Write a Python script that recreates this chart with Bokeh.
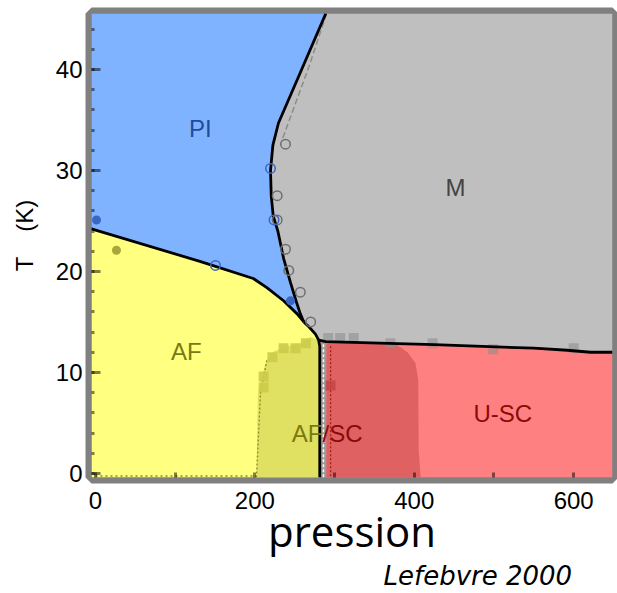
from bokeh.plotting import figure
from bokeh.models import Range1d, FixedTicker, Title
from bokeh.core.properties import value
from bokeh.embed import file_html
from bokeh.resources import INLINE

X0, X1 = -5.0, 648.7
T0, T1 = -0.40, 45.54

# phase boundaries (pression, T)
pi_m_p = [289.0, 256.5, 229.6, 222.6, 219.6, 220.5, 223.0, 228.8, 236.0, 244.7, 252.0, 257.0, 261.4]
pi_m_t = [45.54, 39.6, 34.7, 32.5, 30.0, 27.5, 25.5, 24.0, 21.3, 18.9, 17.0, 15.8, 15.0]
pi_af_p = [-5.0, -4.0, 131.0, 198.0, 215.0, 236.0, 253.0, 261.4]
pi_af_t = [24.3, 24.2, 21.0, 19.3, 18.4, 17.1, 15.8, 15.0]
af_m_p = [261.4, 268.0, 276.0, 280.0, 281.4, 281.4]
af_m_t = [15.0, 14.5, 13.8, 13.2, 12.6, -0.40]
m_usc_p = [280.0, 289.0, 425.0, 550.0, 592.0, 621.0, 648.7]
m_usc_t = [13.2, 13.05, 12.75, 12.4, 12.2, 12.0, 12.0]
afsc_p = [202.0, 203.8, 207.5, 214.6, 222.0, 235.9, 257.2, 270.0, 280.0, 281.4, 281.4]
afsc_t = [-0.40, 7.9, 9.2, 11.2, 12.0, 12.5, 12.9, 13.5, 13.2, 12.6, -0.40]
dred_p = [289.5, 289.5, 370.0, 379.0, 391.5, 401.5, 405.0, 405.5, 408.0]
dred_t = [-0.40, 13.0, 12.85, 12.7, 12.0, 10.9, 9.2, 2.3, -0.40]
dash_p = [290.0, 267.5, 234.0]
dash_t = [45.54, 40.2, 33.0]
afsc_dot_p = [202.0, 207.0, 215.0]
afsc_dot_t = [-0.40, 7.9, 11.2]

# measurements
sq_af_p = [211, 211, 222, 236, 251, 264]
sq_af_t = [8.5, 9.6, 11.5, 12.4, 12.4, 12.9]
sq_m_p = [292, 307, 324, 370, 423, 499, 600]
sq_m_t = [13.4, 13.4, 13.4, 12.9, 12.9, 12.3, 12.4]
sq_sc_p = [295]
sq_sc_t = [8.7]
oc_gray_p = [238.4, 228, 228, 238.4, 242.5, 257, 270]
oc_gray_t = [32.6, 27.5, 25.1, 22.2, 20.1, 17.95, 15.0]
oc_blue_p = [219.6, 224, 150.6]
oc_blue_t = [30.2, 25.1, 20.6]
fc_blue_p = [1.3, 244.7]
fc_blue_t = [25.1, 17.1]
fc_olive_p = [26.3]
fc_olive_t = [22.1]

x_ticks = [0, 200, 400, 600]
x_minor = [100, 300, 500]
y_ticks = [0, 10, 20, 30, 40]
y_minor = list(range(0, 46, 2))

p = figure(width=617, height=593, output_backend="svg", toolbar_location=None,
           x_range=Range1d(X0, X1), y_range=Range1d(T0, T1),
           min_border_left=91, min_border_right=5, min_border_top=13, min_border_bottom=116)
p.background_fill_color = "white"
p.grid.visible = False
p.outline_line_color = "#808080"
p.outline_line_width = 12

# regions
pi_xs = [X0] + pi_m_p + pi_af_p[::-1]
pi_ys = [T1] + pi_m_t + pi_af_t[::-1]
m_xs = pi_m_p + af_m_p[1:4] + m_usc_p[1:] + [X1]
m_ys = pi_m_t + af_m_t[1:4] + m_usc_t[1:] + [T1]
af_xs = pi_af_p + af_m_p[1:] + [X0]
af_ys = pi_af_t + af_m_t[1:] + [T0]
usc_xs = m_usc_p + [X1, 281.4, 281.4]
usc_ys = m_usc_t + [T0, T0, 12.6]

p.patch(pi_xs, pi_ys, fill_color="#80b3ff", line_color=None)
p.patch(m_xs, m_ys, fill_color="#bfbfbf", line_color=None)
p.patch(af_xs, af_ys, fill_color="#ffff80", line_color=None)
p.patch(usc_xs, usc_ys, fill_color="#ff8080", line_color=None)
p.patch(afsc_p, afsc_t, fill_color="#e0e062", line_color=None)
p.patch(dred_p, dred_t, fill_color="#e06161", line_color=None)
p.quad(left=[283.0], right=[289.5], bottom=[T0], top=[13.2], fill_color="#9a9a9a", line_color=None)

# dotted / dashed lines
p.line(afsc_dot_p, afsc_dot_t, line_color="#8a8a30", line_width=1.3, line_dash="2 2")
p.line([0, 202], [T0 + 0.15, T0 + 0.15], line_color="#8a8a30", line_width=1.3, line_dash="2 3")
p.line([295, 295], [12.6, T0], line_color="#a02020", line_width=1.3, line_dash="2 2")
p.line([286, 286], [12.8, T0], line_color="white", line_width=1.5, line_dash="3 2")
p.line(dash_p, dash_t, line_color="#8c8c8c", line_width=1.5, line_dash="6 3")

# squares
p.scatter(sq_af_p, sq_af_t, marker="square", size=10, fill_color="#cccc4a", line_color=None, fill_alpha=0.9)
p.scatter(sq_m_p, sq_m_t, marker="square", size=10, fill_color="#8f8f8f", line_color=None, fill_alpha=0.6)
p.scatter(sq_sc_p, sq_sc_t, marker="square", size=10, fill_color="#c04444", line_color=None, fill_alpha=0.8)

# boundaries
bl = dict(line_color="black", line_width=2.8)
p.line(pi_m_p, pi_m_t, **bl)
p.line(pi_af_p, pi_af_t, **bl)
p.line(af_m_p, af_m_t, **bl)
p.line(m_usc_p, m_usc_t, **bl)

# circles
p.scatter(oc_gray_p, oc_gray_t, marker="circle", size=9.5, fill_color=None, line_color="#6e6e6e", line_width=1.5)
p.scatter(oc_blue_p, oc_blue_t, marker="circle", size=9.5, fill_color=None, line_color="#3a66c4", line_width=1.5)
p.scatter(fc_blue_p, fc_blue_t, marker="circle", size=9, fill_color="#3a66c4", line_color=None)
p.scatter(fc_olive_p, fc_olive_t, marker="circle", size=9, fill_color="#a8a838", line_color=None)

# region labels
lab = dict(text_font=value("Liberation Sans"), text_font_size="24px", text_baseline="middle")
p.text([131.7], [34.2], text=["PI"], text_color="#1f4c9c", text_align="center", **lab)
p.text([451.7], [28.3], text=["M"], text_color="#444444", text_align="center", **lab)
p.text([114.0], [12.1], text=["AF"], text_color="#7a7a10", text_align="center", **lab)
p.text([511.0], [5.94], text=["U-SC"], text_color="#8b0a0a", text_align="center", **lab)
p.text([284.8], [3.96], text=["AF"], text_color="#7a7a10", text_align="right", **lab)
p.text([284.8], [3.96], text=["/SC"], text_color="#8b0a0a", text_align="left", **lab)

# axes
for ax in (p.xaxis[0], p.yaxis[0]):
    ax.axis_line_color = None
    ax.major_tick_out = 0
    ax.minor_tick_out = 0
    ax.major_tick_line_color = "black"
    ax.major_tick_line_alpha = 0.5
    ax.minor_tick_line_color = "black"
    ax.minor_tick_line_alpha = 0.5
    ax.major_tick_line_width = 3
    ax.minor_tick_line_width = 3
    ax.major_label_text_font = "Liberation Sans"
    ax.major_label_text_font_size = "24px"
    ax.major_label_text_color = "black"

p.xaxis.ticker = FixedTicker(ticks=x_ticks, minor_ticks=x_minor)
p.yaxis.ticker = FixedTicker(ticks=y_ticks, minor_ticks=y_minor)
p.yaxis.major_tick_in = 9
p.yaxis.minor_tick_in = 3
p.xaxis.major_tick_in = 5
p.xaxis.minor_tick_in = 5
p.yaxis.major_label_standoff = 9
p.xaxis.major_label_standoff = 14

p.xaxis.axis_label = "pression"
p.xaxis.axis_label_text_font = "Open Sans"
p.xaxis.axis_label_text_font_size = "42px"
p.xaxis.axis_label_text_font_style = "normal"
p.xaxis.axis_label_text_color = "black"
p.xaxis.axis_label_standoff = -10

p.yaxis.axis_label = "\u00a0\u00a0\u00a0T\u00a0\u00a0\u00a0\u2009(K)"
p.yaxis.axis_label_text_font = "Liberation Sans"
p.yaxis.axis_label_text_font_size = "24px"
p.yaxis.axis_label_text_font_style = "normal"
p.yaxis.axis_label_text_color = "black"
p.yaxis.axis_label_standoff = 15

t = Title(text="Lefebvre 2000", align="left", offset=292, text_font="DejaVu Sans",
          text_font_size="26px", text_font_style="italic", text_color="black", standoff=-5)
p.add_layout(t, "below")

open("out.html", "w").write(file_html(p, INLINE))
